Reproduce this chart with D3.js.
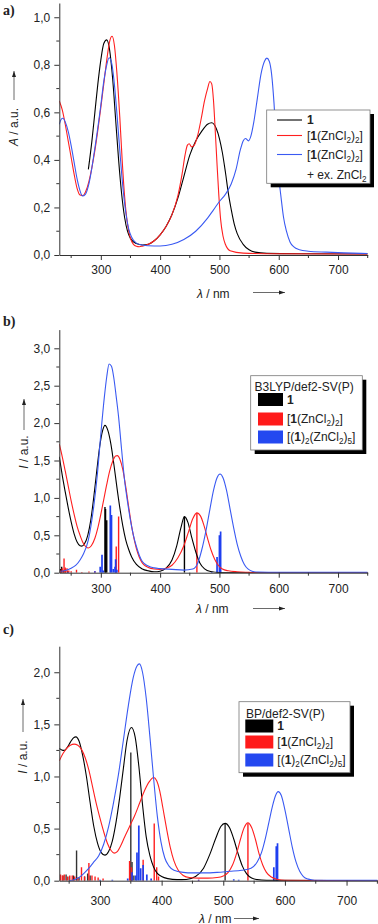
<!DOCTYPE html>
<html>
<head>
<meta charset="utf-8">
<script src="https://cdn.jsdelivr.net/npm/d3@7"></script>
<style>
    body { margin: 0; background: #fff; }
    svg { display: block; }
    text { font-family: "Liberation Sans", Arial, sans-serif; fill: #222; }
</style>
</head>
<body>
<script>
// ---- data: [wavelength nm, intensity] ----
// a) measured absorption
const aBlack = [[279,0.36],[285,0.48],[290,0.6],[295,0.72],[300,0.82],[305,0.89],[310,0.905],[315,0.86],[320,0.74],[325,0.57],[330,0.4],[335,0.26],[340,0.16],[345,0.1],[350,0.07],[360,0.048],[370,0.042],[380,0.045],[390,0.06],[400,0.085],[410,0.12],[420,0.17],[430,0.24],[440,0.33],[450,0.42],[460,0.48],[470,0.52],[480,0.55],[487,0.556],[495,0.53],[500,0.49],[505,0.43],[510,0.35],[515,0.26],[520,0.19],[525,0.13],[530,0.09],[540,0.045],[550,0.022],[560,0.012],[580,0.007],[650,0.005],[750,0.004]];
const aRed = [[230,0.648],[235,0.61],[240,0.55],[245,0.48],[250,0.41],[255,0.34],[260,0.28],[265,0.252],[270,0.25],[275,0.27],[280,0.31],[290,0.44],[300,0.62],[305,0.72],[310,0.82],[315,0.9],[319,0.92],[323,0.88],[327,0.77],[332,0.58],[336,0.4],[340,0.25],[345,0.13],[350,0.07],[355,0.045],[360,0.037],[365,0.035],[370,0.037],[380,0.045],[390,0.06],[400,0.085],[410,0.12],[420,0.17],[430,0.25],[437,0.34],[442,0.42],[446,0.462],[449,0.468],[453,0.455],[457,0.46],[463,0.5],[469,0.57],[475,0.65],[480,0.7],[484,0.73],[487,0.72],[490,0.65],[493,0.52],[496,0.38],[499,0.25],[502,0.15],[506,0.08],[510,0.045],[518,0.018],[540,0.008],[600,0.005],[750,0.004]];
const aBlue = [[230,0.55],[233,0.57],[236,0.575],[240,0.56],[245,0.52],[250,0.46],[255,0.39],[260,0.32],[265,0.27],[269,0.248],[274,0.255],[280,0.3],[290,0.45],[300,0.63],[305,0.73],[310,0.8],[314,0.83],[318,0.81],[322,0.74],[327,0.6],[332,0.44],[337,0.29],[342,0.18],[347,0.11],[352,0.075],[360,0.05],[370,0.042],[380,0.039],[400,0.038],[420,0.045],[440,0.065],[460,0.1],[480,0.155],[490,0.19],[500,0.225],[510,0.255],[520,0.3],[528,0.36],[535,0.44],[540,0.48],[544,0.49],[549,0.48],[553,0.5],[558,0.56],[564,0.66],[570,0.76],[576,0.815],[580,0.828],[584,0.815],[588,0.76],[592,0.64],[596,0.47],[600,0.33],[604,0.24],[608,0.16],[613,0.1],[619,0.055],[625,0.035],[635,0.022],[650,0.016],[680,0.012],[710,0.009],[750,0.006]];

// b) B3LYP/def2-SV(P) simulated spectra and excitations
const bBlack = [[230,1.55],[235,1.3],[240,1.08],[245,0.87],[250,0.68],[255,0.52],[260,0.41],[265,0.36],[268,0.355],[272,0.38],[278,0.5],[283,0.7],[288,1.0],[293,1.35],[298,1.68],[303,1.9],[307,1.97],[312,1.9],[317,1.72],[322,1.45],[327,1.15],[332,0.87],[337,0.63],[342,0.44],[347,0.31],[352,0.21],[360,0.11],[370,0.05],[380,0.025],[390,0.012],[400,0.02],[410,0.06],[420,0.17],[428,0.36],[435,0.6],[441,0.75],[447,0.67],[453,0.48],[460,0.28],[467,0.13],[475,0.05],[485,0.015],[500,0.003],[750,0]];
const bRed = [[230,1.72],[235,1.55],[240,1.36],[245,1.16],[250,0.96],[255,0.78],[260,0.62],[265,0.5],[270,0.4],[275,0.345],[279,0.33],[284,0.36],[290,0.46],[295,0.6],[300,0.78],[305,0.98],[310,1.18],[315,1.36],[320,1.49],[325,1.56],[328,1.565],[332,1.52],[337,1.38],[342,1.15],[347,0.88],[352,0.62],[357,0.42],[362,0.27],[367,0.17],[372,0.11],[380,0.07],[390,0.05],[400,0.045],[410,0.06],[420,0.1],[430,0.2],[440,0.36],[448,0.55],[455,0.72],[462,0.8],[468,0.76],[474,0.63],[480,0.46],[486,0.3],[492,0.18],[498,0.1],[505,0.05],[515,0.025],[530,0.012],[550,0.005],[570,0],[750,0]];
const bBlue = [[232,0.02],[240,0.03],[250,0.06],[258,0.1],[265,0.17],[270,0.24],[279,0.44],[288,0.88],[294,1.3],[300,1.85],[306,2.35],[310,2.62],[314,2.79],[318,2.76],[322,2.6],[326,2.35],[330,2.08],[335,1.65],[340,1.24],[345,0.95],[350,0.7],[355,0.5],[360,0.35],[365,0.23],[370,0.15],[380,0.09],[390,0.065],[400,0.055],[420,0.045],[440,0.035],[455,0.05],[463,0.12],[470,0.3],[477,0.55],[484,0.85],[490,1.1],[496,1.27],[501,1.32],[506,1.27],[512,1.1],[518,0.85],[524,0.6],[530,0.38],[536,0.22],[542,0.11],[548,0.05],[555,0.02],[565,0.008],[600,0.005],[750,0.005]];
const bStickBlack = [[232,0.05],[234,0.08],[237,0.03],[240,0.05],[244,0.02],[307,0.88],[308,0.85],[310,0.7],[441,0.75]];
const bStickRed = [[232,0.03],[235,0.06],[238,0.19],[240,0.07],[243,0.06],[246,0.03],[250,0.02],[259,0.04],[268,0.01],[280,0.015],[290,0.02],[326,0.35],[330,0.75],[462,0.8]];
const bStickBlue = [[245,0.01],[290,0.02],[299,0.08],[302,0.24],[304,0.03],[316,0.9],[318,0.77],[321,0.05],[324,0.08],[325,0.18],[327,0.04],[487,0.01],[496,0.21],[500,0.5],[502,0.55]];

// c) BP/def2-SV(P) simulated spectra and excitations
const cBlack = [[234,1.27],[238,1.255],[242,1.25],[247,1.28],[252,1.33],[257,1.37],[261,1.38],[266,1.34],[272,1.2],[278,1.0],[284,0.75],[290,0.52],[296,0.36],[302,0.27],[308,0.245],[314,0.28],[320,0.38],[326,0.56],[332,0.8],[338,1.08],[344,1.35],[351,1.47],[357,1.38],[363,1.1],[369,0.73],[375,0.42],[381,0.24],[387,0.13],[393,0.07],[400,0.04],[410,0.02],[425,0.01],[440,0.012],[455,0.04],[468,0.12],[478,0.25],[488,0.41],[496,0.52],[503,0.55],[510,0.51],[517,0.4],[524,0.26],[531,0.14],[538,0.065],[546,0.025],[555,0.01],[570,0.003],[750,0]];
const cRed = [[234,1.15],[240,1.22],[246,1.27],[252,1.3],[258,1.31],[264,1.3],[270,1.26],[276,1.18],[282,1.06],[288,0.9],[294,0.74],[300,0.6],[306,0.47],[312,0.36],[318,0.29],[323,0.265],[328,0.28],[334,0.34],[340,0.42],[348,0.52],[356,0.62],[364,0.74],[372,0.86],[380,0.95],[387,0.99],[392,0.96],[397,0.86],[402,0.7],[408,0.5],[414,0.32],[420,0.19],[427,0.1],[435,0.05],[445,0.03],[460,0.025],[475,0.025],[490,0.03],[500,0.045],[508,0.08],[515,0.15],[522,0.27],[528,0.4],[534,0.51],[540,0.555],[546,0.51],[552,0.4],[558,0.26],[564,0.15],[570,0.08],[578,0.035],[588,0.012],[600,0.004],[750,0]];
const cBlue = [[250,0],[258,0.01],[266,0.03],[274,0.07],[282,0.12],[290,0.18],[298,0.24],[306,0.35],[314,0.52],[322,0.75],[330,1.02],[338,1.35],[346,1.68],[354,1.95],[360,2.06],[364,2.08],[369,2.0],[375,1.75],[381,1.38],[387,0.98],[393,0.62],[399,0.37],[405,0.22],[412,0.14],[420,0.1],[435,0.08],[450,0.075],[470,0.075],[490,0.08],[510,0.09],[530,0.1],[545,0.12],[555,0.18],[562,0.27],[568,0.4],[574,0.56],[580,0.72],[585,0.82],[589,0.855],[594,0.82],[600,0.68],[606,0.5],[612,0.32],[618,0.18],[624,0.09],[630,0.04],[638,0.015],[648,0.005],[750,0.003]];
const cStickBlack = [[240,0.05],[245,0.06],[250,0.04],[257,0.05],[262,0.29],[266,0.03],[275,0.04],[280,0.07],[284,0.05],[350,1.23],[352,0.18],[355,0.05],[503,0.55]];
const cStickRed = [[236,0.06],[239,0.05],[242,0.06],[247,0.04],[251,0.05],[255,0.05],[259,0.04],[264,0.03],[270,0.13],[275,0.04],[282,0.17],[287,0.05],[292,0.04],[297,0.03],[305,0.02],[348,0.19],[351,0.13],[370,0.2],[388,0.55],[392,0.13],[395,0.04],[460,0.01],[540,0.55]];
const cStickBlue = [[300,0.01],[320,0.01],[345,0.02],[352,0.08],[358,0.05],[360,0.27],[363,0.53],[366,0.12],[370,0.15],[376,0.06],[383,0.02],[460,0.01],[517,0.015],[525,0.01],[582,0.13],[586,0.33],[588,0.36]];

// tick values
const xMajor = [300, 400, 500, 600, 700];
const xMinor = [250, 350, 450, 550, 650, 750];
const aYMajor = [0, 0.2, 0.4, 0.6, 0.8, 1.0];
const aYMinor = [0.1, 0.3, 0.5, 0.7, 0.9];
const bYMajor = [0, 0.5, 1.0, 1.5, 2.0, 2.5, 3.0];
const bYMinor = [0.25, 0.75, 1.25, 1.75, 2.25, 2.75];
const cYMajor = [0, 0.5, 1.0, 1.5, 2.0];
const cYMinor = [0.25, 0.75, 1.25, 1.75];

// legend labels, split into plain/bold/subscript pieces
const lab1 = [{t: "1", b: 1}];
const labZn = [{t: "["}, {t: "1", b: 1}, {t: "(ZnCl"}, {t: "2", s: 1}, {t: ")"}, {t: "2", s: 1}, {t: "]"}];
const labEx = [{t: "+ ex. ZnCl"}, {t: "2", s: 1}];
const labDimer = [{t: "[("}, {t: "1", b: 1}, {t: ")"}, {t: "2", s: 1}, {t: "(ZnCl"}, {t: "2", s: 1}, {t: ")"}, {t: "5", s: 1}, {t: "]"}];

const RED = "#ff1f1f", BLUE = "#3a5af2", BLACK = "#000";

const svg = d3.select("body").append("svg")
    .attr("width", 378)
    .attr("height", 924);

function richText(sel, parts, fs) {
    let wasSub = false;
    parts.forEach(function(p) {
        const t = sel.append("tspan").text(p.t);
        if (p.b) t.attr("font-weight", "bold");
        if (p.i) t.attr("font-style", "italic");
        if (p.s) {
            t.attr("font-size", fs * 0.68).attr("dy", wasSub ? 0 : 3);
            wasSub = true;
        } else {
            if (wasSub) t.attr("dy", -3);
            wasSub = false;
        }
    });
}

function arrow(g, x1, y1, x2, y2) {
    g.append("line")
        .attr("x1", x1).attr("y1", y1).attr("x2", x2).attr("y2", y2)
        .attr("stroke", "#444").attr("stroke-width", 0.8);
    const ang = Math.atan2(y2 - y1, x2 - x1);
    const L = 6, W = 2;
    const p = [[x2, y2],
        [x2 - L * Math.cos(ang) - W * Math.sin(ang), y2 - L * Math.sin(ang) + W * Math.cos(ang)],
        [x2 - L * Math.cos(ang) + W * Math.sin(ang), y2 - L * Math.sin(ang) - W * Math.cos(ang)]];
    g.append("path").attr("d", "M" + p.join("L") + "Z").attr("fill", "#222");
}

function drawPanel(p) {
    const g = svg.append("g");
    const x = d3.scaleLinear().domain(p.xDomain).range(p.xRange);
    const y = d3.scaleLinear().domain([0, p.yMax]).range([p.y0, p.yTop]);

    g.append("clipPath").attr("id", "clip" + p.id)
        .append("rect")
        .attr("x", p.xRange[0]).attr("y", p.yTop)
        .attr("width", p.xRange[1] - p.xRange[0]).attr("height", p.y0 - p.yTop);
    const plot = g.append("g").attr("clip-path", "url(#clip" + p.id + ")");

    // stick spectra
    (p.sticks || []).forEach(function(s) {
        plot.selectAll(null)
            .data(s.data)
            .enter()
            .append("line")
            .attr("x1", d => x(d[0])).attr("x2", d => x(d[0]))
            .attr("y1", y(0)).attr("y2", d => y(d[1]))
            .attr("stroke", s.color)
            .attr("stroke-width", s.w || 1.4);
    });

    const line = d3.line()
        .x(d => x(d[0]))
        .y(d => y(d[1]))
        .curve(d3.curveMonotoneX);
    p.curves.forEach(function(c) {
        plot.append("path")
            .datum(c.data)
            .attr("d", line)
            .attr("fill", "none")
            .attr("stroke", c.color)
            .attr("stroke-width", 1.1);
    });

    // axes
    const fmt = d => d.toFixed(1).replace(".", ",");
    const xAxis = g.append("g")
        .attr("transform", "translate(0," + p.y0 + ")")
        .call(d3.axisBottom(x).tickValues(xMajor).tickSize(5).tickSizeOuter(0).tickPadding(p.xPad).tickFormat(d3.format("d")));
    xAxis.append("g").selectAll("line")
        .data(xMinor.filter(v => v >= p.xDomain[0] && v <= p.xDomain[1]))
        .enter().append("line")
        .attr("x1", d => x(d)).attr("x2", d => x(d))
        .attr("y1", 0).attr("y2", 3)
        .attr("stroke", "#333");
    const yAxis = g.append("g")
        .attr("transform", "translate(" + p.xRange[0] + ",0)")
        .call(d3.axisLeft(y).tickValues(p.yMajor).tickSize(5).tickSizeOuter(0).tickPadding(4).tickFormat(fmt));
    yAxis.append("g").selectAll("line")
        .data(p.yMinor)
        .enter().append("line")
        .attr("x1", 0).attr("x2", -3)
        .attr("y1", d => y(d)).attr("y2", d => y(d))
        .attr("stroke", "#333");
    g.selectAll(".domain").attr("stroke", "#333");
    g.selectAll(".tick line").attr("stroke", "#333");
    g.selectAll(".tick text")
        .style("font-family", "'Liberation Sans', Arial, sans-serif")
        .style("font-size", "12px")
        .attr("fill", "#222");

    // axis titles with the little arrows
    const xt = g.append("text")
        .attr("x", p.xTitle[0]).attr("y", p.xTitle[1])
        .style("font-size", "12px");
    richText(xt, [{t: "λ", i: 1}, {t: " / nm"}], 12);
    arrow(g, p.xArrow[0], p.xArrow[2], p.xArrow[1], p.xArrow[2]);

    const yt = g.append("text")
        .attr("transform", "translate(" + p.yTitle[0] + "," + p.yTitle[1] + ") rotate(-90)")
        .attr("text-anchor", "middle")
        .style("font-size", "12px");
    richText(yt, [{t: p.yVar, i: 1}, {t: " / a.u."}], 12);
    arrow(g, p.yArrow[0], p.yArrow[1], p.yArrow[0], p.yArrow[2]);

    g.append("text")
        .attr("x", 3).attr("y", p.labelY)
        .text(p.id + ")")
        .style("font-family", "'Liberation Serif', 'Times New Roman', serif")
        .style("font-weight", "bold")
        .style("font-size", "14px")
        .attr("fill", "#000");

    // legend
    const L = p.legend;
    const lg = g.append("g");
    lg.append("rect")
        .attr("x", L.x + 4).attr("y", L.y + 4).attr("width", L.w).attr("height", L.h)
        .attr("fill", "#000");
    lg.append("rect")
        .attr("x", L.x).attr("y", L.y).attr("width", L.w).attr("height", L.h)
        .attr("fill", "#fff").attr("stroke", "#777").attr("stroke-width", 0.8);
    if (L.title) {
        lg.append("text")
            .attr("x", L.titleX).attr("y", L.titleY + 4.3)
            .style("font-size", "12px")
            .text(L.title);
    }
    L.items.forEach(function(it) {
        if (L.swatch) {
            lg.append("rect")
                .attr("x", L.textX - L.swatchW - 4).attr("y", it.y - 6.5)
                .attr("width", L.swatchW).attr("height", 13)
                .attr("fill", it.color);
        } else if (it.color) {
            lg.append("line")
                .attr("x1", L.textX - 30).attr("x2", L.textX - 5)
                .attr("y1", it.y).attr("y2", it.y)
                .attr("stroke", it.color).attr("stroke-width", 1.1);
        }
        const t = lg.append("text")
            .attr("x", L.textX).attr("y", it.y + 4.3)
            .style("font-size", "12px");
        richText(t, it.label, 12);
    });
}

drawPanel({
    id: "a", labelY: 15,
    xDomain: [230, 750], xRange: [59.3, 367.7],
    yMax: 1.06, y0: 255, yTop: 3,
    yMajor: aYMajor, yMinor: aYMinor, xPad: 5,
    curves: [{data: aBlack, color: BLACK}, {data: aRed, color: RED}, {data: aBlue, color: BLUE}],
    xTitle: [197, 297.5], xArrow: [253, 285, 292.5],
    yVar: "A", yTitle: [18, 127], yArrow: [14, 100, 71],
    legend: {x: 266.7, y: 110, w: 103.3, h: 73.3, textX: 307,
        items: [{y: 120, color: BLACK, label: lab1},
                {y: 135.5, color: RED, label: labZn},
                {y: 154.5, color: BLUE, label: labZn},
                {y: 174.5, label: labEx}]}
});

drawPanel({
    id: "b", labelY: 326,
    xDomain: [230, 750], xRange: [59.3, 367.7],
    yMax: 3.25, y0: 572.7, yTop: 329.6,
    yMajor: bYMajor, yMinor: bYMinor, xPad: 6.5,
    sticks: [{data: bStickBlack, color: BLACK}, {data: bStickRed, color: RED}, {data: bStickBlue, color: "#1f3ff0", w: 1.7}],
    curves: [{data: bBlack, color: BLACK}, {data: bRed, color: RED}, {data: bBlue, color: BLUE}],
    xTitle: [196, 613], xArrow: [253, 285, 608.5],
    yVar: "I", yTitle: [28, 452], yArrow: [24, 430, 399],
    legend: {x: 250.7, y: 375.7, w: 111.6, h: 74.3, textX: 287, swatch: true, swatchW: 25,
        title: "B3LYP/def2-SV(P)", titleX: 254.5, titleY: 387,
        items: [{y: 399.5, color: BLACK, label: lab1},
                {y: 419, color: "#ff1a1a", label: labZn},
                {y: 437, color: "#2448f0", label: labDimer}]}
});

drawPanel({
    id: "c", labelY: 634,
    xDomain: [234, 751], xRange: [59.3, 378],
    yMax: 2.25, y0: 880.7, yTop: 646.2,
    yMajor: cYMajor, yMinor: cYMinor, xPad: 10.5,
    sticks: [{data: cStickBlack, color: "#333"}, {data: cStickRed, color: RED}, {data: cStickBlue, color: "#1f3ff0", w: 1.7}],
    curves: [{data: cBlack, color: BLACK}, {data: cRed, color: RED}, {data: cBlue, color: BLUE}],
    xTitle: [199, 922.5], xArrow: [234, 259, 918.5],
    yVar: "I", yTitle: [27, 757], yArrow: [23, 732, 699],
    legend: {x: 239, y: 701.7, w: 111, h: 71, textX: 277.3, swatch: true, swatchW: 28,
        title: "BP/def2-SV(P)", titleX: 246, titleY: 713.3,
        items: [{y: 726, color: BLACK, label: lab1},
                {y: 742, color: "#ff1a1a", label: labZn},
                {y: 760, color: "#2448f0", label: labDimer}]}
});
</script>
</body>
</html>
